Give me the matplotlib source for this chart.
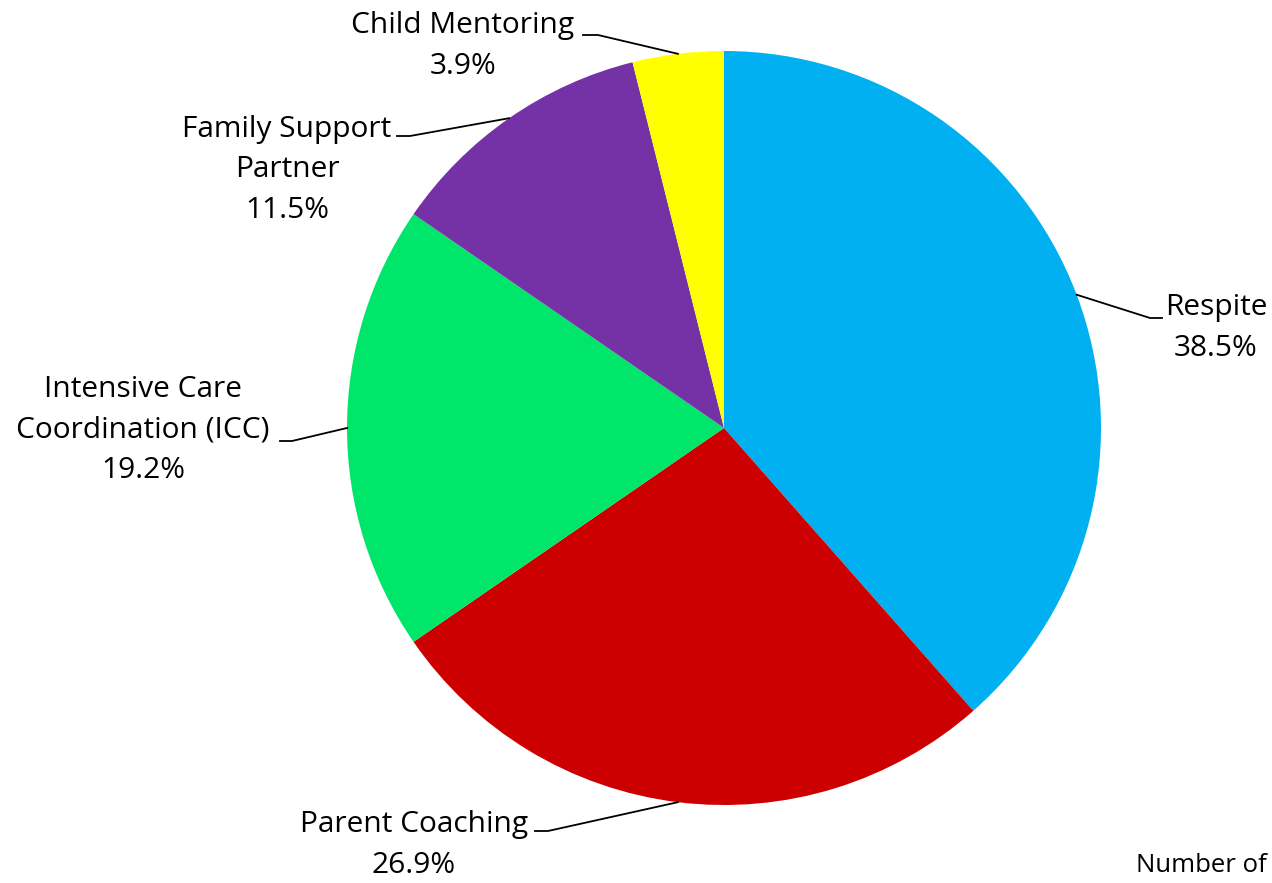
import numpy as np
import matplotlib.pyplot as plt

plt.rcParams['font.family'] = ['Open Sans', 'DejaVu Sans']

# Data (clockwise from 12 o'clock), percent of services
services = ['Respite', 'Parent Coaching', 'Intensive Care\nCoordination (ICC)',
            'Family Support\nPartner', 'Child Mentoring']
shares = [38.5, 26.9, 19.2, 11.5, 3.9]
colors = ['#00B0F0', '#CC0000', '#00E66B', '#7432A6', '#FFFF00']

W, H = 1272, 883
CX, CY, R = 724, 428, 377  # pie center / radius in pixels


def px(x, y):
    # pixel (from top-left) -> data coordinates
    return (x - CX) / R, (CY - y) / R


fig = plt.figure(figsize=(W / 100, H / 100), dpi=100)
ax = fig.add_axes([0, 0, 1, 1])
wedges, _ = ax.pie(shares, colors=colors, startangle=90, counterclock=False,
                   radius=1, wedgeprops=dict(linewidth=0))
ax.set_xlim(-CX / R, (W - CX) / R)
ax.set_ylim(-(H - CY) / R, CY / R)
ax.set_aspect('equal')
ax.axis('off')

pcts = [f'{s:.1f}%' for s in shares]

# label text center (px), elbow point (px), horizontal end (px)
label_pos = [(1216, 328), (414, 845), (143, 430), (287, 170), (463, 46)]
elbows = [((1150, 318), (1162, 318)),
          ((548, 831), (535, 831)),
          ((292, 441), (280, 441)),
          ((410, 136), (397, 136)),
          ((598, 35), (583, 35))]

for w, name, pct, (lx, ly), (e1, e2) in zip(wedges, services, pcts, label_pos, elbows):
    ang = np.deg2rad((w.theta1 + w.theta2) / 2)
    x0, y0 = np.cos(ang), np.sin(ang)
    ex1, ey1 = px(*e1)
    ex2, ey2 = px(*e2)
    ax.plot([x0, ex1, ex2], [y0, ey1, ey2], color='black', lw=1.3)
    tx, ty = px(lx, ly)
    ax.text(tx, ty, f'{name}\n{pct}', ha='center', va='center',
            fontsize=21.5, linespacing=1.52, color='black')

ax.text(*px(1201, 866), 'Number of', ha='center', va='center', fontsize=18.5)

fig.savefig('out.png', dpi=100)
